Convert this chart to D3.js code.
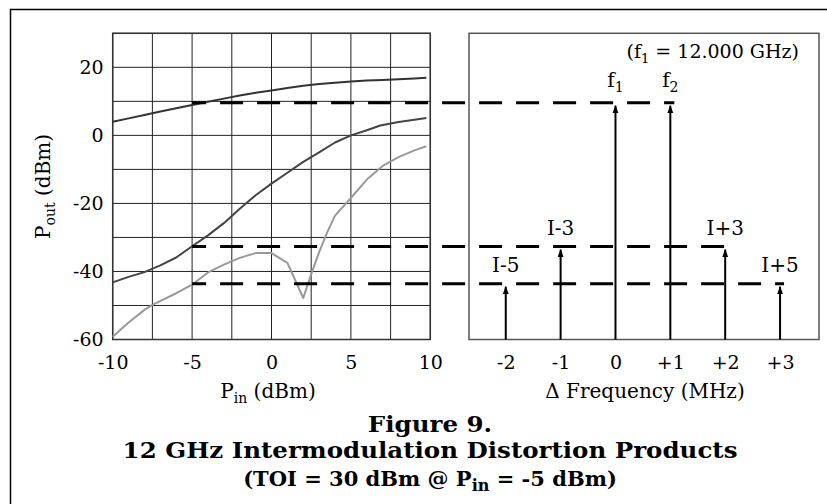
<!DOCTYPE html>
<html>
<head>
<meta charset="utf-8">
<script src="https://cdn.jsdelivr.net/npm/d3@7"></script>
<style>
  body { margin: 0; background: #fff; }
  svg { display: block; }
  text { font-family: "DejaVu Serif", serif; fill: #000; }
</style>
</head>
<body>
<svg id="chart" width="827" height="504"></svg>
<script>
// Pin sweep (dBm) and measured output levels (dBm)
const fundamentalPin = [-10, -9, -8, -7, -6, -5, -4, -3, -2, -1, 0, 1, 2, 3, 4, 5, 6, 7, 8, 9, 9.75];
const fundamentalOut = [4.0, 5.0, 6.0, 7.0, 8.0, 8.9, 9.9, 10.8, 11.7, 12.5, 13.2, 13.9, 14.6, 15.1, 15.5, 15.8, 16.1, 16.3, 16.5, 16.7, 16.9];

const im3Pin = [-10, -9, -8, -7, -6, -5, -4, -3, -2, -1, 0, 1, 2, 3, 4, 5, 6, 6.85, 8, 9, 9.75];
const im3Out = [-43.2, -41.6, -40.2, -38.2, -35.9, -32.6, -29.4, -25.8, -21.6, -17.6, -14.2, -11.0, -7.8, -5.0, -2.1, 0, 1.5, 2.9, 3.9, 4.6, 5.1];

const im5Pin = [-10, -9, -8, -7.5, -6, -5, -4, -3, -2, -1, 0, 1, 2, 2.5, 3, 3.5, 4, 5, 6, 7, 8, 9, 9.75];
const im5Out = [-59.2, -55.0, -51.3, -49.8, -46.4, -43.9, -40.3, -38.0, -36.0, -34.6, -34.6, -37.5, -47.8, -40.8, -34.3, -28.6, -23.6, -18.4, -13.0, -9.0, -6.4, -4.4, -3.2];

const pinTicks = [-10, -5, 0, 5, 10];
const poutTicks = [20, 0, -20, -40, -60];

// spectrum panel
const freqOffsets = [-2, -1, 0, 1, 2, 3];
const freqTickLabels = ["-2", "-1", "0", "+1", "+2", "+3"];
const toneLevels = [-43.6, -32.7, 9.6, 9.6, -32.7, -43.6];
const toneNames = ["I-5", "I-3", "f", "f", "I+3", "I+5"];
const toneSubs = ["", "", "1", "2", "", ""];

// dashed reference levels, drawn from Pin = -5 dBm to the last tone at that level
const refLevels = [9.6, -32.7, -43.6];
const refStartPin = -5;
const refEndOffset = [1, 2, 3];

const svg = d3.select("#chart");

const x = d3.scaleLinear().domain([-10, 10]).range([112.7, 430.3]);
const y = d3.scaleLinear().domain([-60, 30]).range([339.5, 33.3]);
const fx = d3.scaleLinear().domain([-2.67, 3.71]).range([469, 819]);

// outer frame (top + left only, the rest is cropped)
svg.append("path")
    .attr("d", "M10.5,504 V9.5 H827")
    .attr("fill", "none")
    .attr("stroke", "#000")
    .attr("stroke-width", 1.5);

// ---- left panel: Pout vs Pin ----
const left = svg.append("g");

left.append("g")
  .selectAll("line")
  .data(d3.range(-10, 10.01, 2.5))
  .join("line")
    .attr("x1", d => x(d)).attr("x2", d => x(d))
    .attr("y1", y(30)).attr("y2", y(-60))
    .attr("stroke", "#222")
    .attr("stroke-width", 1);

left.append("g")
  .selectAll("line")
  .data(d3.range(-60, 30.01, 10))
  .join("line")
    .attr("x1", x(-10)).attr("x2", x(10))
    .attr("y1", d => y(d)).attr("y2", d => y(d))
    .attr("stroke", "#222")
    .attr("stroke-width", 1);

left.append("rect")
    .attr("x", x(-10)).attr("y", y(30))
    .attr("width", x(10) - x(-10))
    .attr("height", y(-60) - y(30))
    .attr("fill", "none")
    .attr("stroke", "#333")
    .attr("stroke-width", 1.5);

const line = d3.line().x(d => x(d[0])).y(d => y(d[1]));

const curves = [
  { pin: fundamentalPin, out: fundamentalOut, color: "#333" },
  { pin: im3Pin, out: im3Out, color: "#444" },
  { pin: im5Pin, out: im5Out, color: "#999" }
];
curves.forEach(c => {
  left.append("path")
      .attr("d", line(d3.zip(c.pin, c.out)))
      .attr("fill", "none")
      .attr("stroke", c.color)
      .attr("stroke-width", 2)
      .attr("stroke-linejoin", "round");
});

// plain hyphen for negatives, like the original
const plain = d => String(d);

const yAxis = left.append("g")
    .attr("transform", `translate(${x(-10)},0)`)
    .call(d3.axisLeft(y).tickValues(poutTicks).tickFormat(plain).tickSize(0).tickPadding(9));
const xAxis = left.append("g")
    .attr("transform", `translate(0,${y(-60)})`)
    .call(d3.axisBottom(x).tickValues(pinTicks).tickFormat(plain).tickSize(0).tickPadding(16));

// ---- right panel: spectrum ----
const right = svg.append("g");

right.append("rect")
    .attr("x", fx.range()[0]).attr("y", y(30))
    .attr("width", fx.range()[1] - fx.range()[0])
    .attr("height", y(-60) - y(30))
    .attr("fill", "none")
    .attr("stroke", "#555")
    .attr("stroke-width", 1.5);

const fAxis = right.append("g")
    .attr("transform", `translate(0,${y(-60)})`)
    .call(d3.axisBottom(fx).tickValues(freqOffsets)
      .tickFormat((d, i) => freqTickLabels[i]).tickSize(0).tickPadding(16));

[yAxis, xAxis, fAxis].forEach(a => {
  a.select(".domain").remove();
  a.selectAll("text")
      .style("font-family", "DejaVu Serif")
      .style("font-size", "19px")
      .attr("fill", "#000");
});

// dashed reference levels
svg.append("g")
  .selectAll("line")
  .data(refLevels)
  .join("line")
    .attr("x1", x(refStartPin))
    .attr("x2", (d, i) => fx(refEndOffset[i]) + 4)
    .attr("y1", d => y(d)).attr("y2", d => y(d))
    .attr("stroke", "#000")
    .attr("stroke-width", 3)
    .attr("stroke-dasharray", "23,14")
    .attr("stroke-dashoffset", 9);

svg.append("defs").append("marker")
    .attr("id", "arrow")
    .attr("markerUnits", "userSpaceOnUse")
    .attr("markerWidth", 8).attr("markerHeight", 11)
    .attr("refX", 10).attr("refY", 4)
    .attr("viewBox", "0 0 11 8")
    .attr("orient", "auto")
  .append("path")
    .attr("d", "M0,0 L11,4 L0,8 Z")
    .attr("fill", "#000");

const tones = freqOffsets.map((f, i) => ({ f, level: toneLevels[i], name: toneNames[i], sub: toneSubs[i] }));

right.append("g")
  .selectAll("line")
  .data(tones)
  .join("line")
    .attr("x1", d => fx(d.f)).attr("x2", d => fx(d.f))
    .attr("y1", y(-60)).attr("y2", d => y(d.level) + 3)
    .attr("stroke", "#000")
    .attr("stroke-width", 2)
    .attr("marker-end", "url(#arrow)");

const toneText = right.append("g")
  .selectAll("text")
  .data(tones)
  .join("text")
    .attr("x", d => fx(d.f))
    .attr("y", d => y(d.level) - (d.sub ? 16 : 12))
    .attr("text-anchor", "middle")
    .style("font-size", "20px");
toneText.append("tspan").text(d => d.name);
toneText.filter(d => d.sub).append("tspan")
    .attr("dy", 5).style("font-size", "14px")
    .text(d => d.sub);

const note = right.append("text")
    .attr("x", 799).attr("y", 58)
    .attr("text-anchor", "end")
    .style("font-size", "19px");
note.append("tspan").text("(f");
note.append("tspan").attr("dy", 5).style("font-size", "13px").text("1");
note.append("tspan").attr("dy", -5).text(" = 12.000 GHz)");

// axis titles
const yTitle = svg.append("text")
    .attr("transform", `translate(50,${(y(30) + y(-60)) / 2}) rotate(-90)`)
    .attr("text-anchor", "middle")
    .style("font-size", "20px");
yTitle.append("tspan").text("P");
yTitle.append("tspan").attr("dy", 5).style("font-size", "14px").text("out");
yTitle.append("tspan").attr("dy", -5).text(" (dBm)");

const xTitle = svg.append("text")
    .attr("x", 268).attr("y", 398)
    .attr("text-anchor", "middle")
    .style("font-size", "20px");
xTitle.append("tspan").text("P");
xTitle.append("tspan").attr("dy", 5).style("font-size", "14px").text("in");
xTitle.append("tspan").attr("dy", -5).text(" (dBm)");

svg.append("text")
    .attr("x", 645).attr("y", 398)
    .attr("text-anchor", "middle")
    .style("font-size", "20px")
    .text("\u0394 Frequency (MHz)");

// caption: the original face is wide, so stretch a smaller size sideways
const caption = svg.append("g")
    .attr("text-anchor", "middle")
    .style("font-weight", "bold");
caption.append("text")
    .attr("transform", "translate(430,432) scale(1.14,1)")
    .style("font-size", "21.5px")
    .text("Figure 9.");
caption.append("text")
    .attr("transform", "translate(430,458) scale(1.14,1)")
    .style("font-size", "21.5px")
    .text("12 GHz Intermodulation Distortion Products");
const sub = caption.append("text")
    .attr("x", 430).attr("y", 486)
    .style("font-size", "21px");
sub.append("tspan").text("(TOI = 30 dBm @ P");
sub.append("tspan").attr("dy", 5).style("font-size", "16px").text("in");
sub.append("tspan").attr("dy", -5).text(" = -5 dBm)");
</script>
</body>
</html>
